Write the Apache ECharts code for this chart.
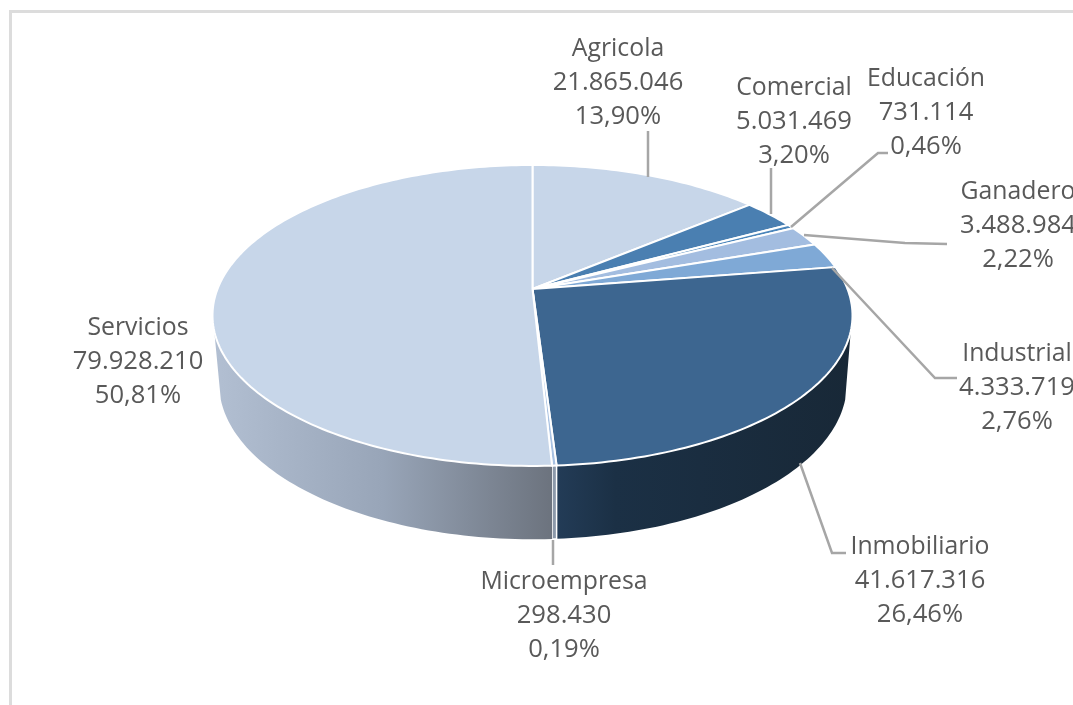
<!DOCTYPE html>
<html><head><meta charset="utf-8">
<style>html,body{margin:0;padding:0;background:#fff}#c{width:1073px;height:705px}</style>
<script src="https://cdn.jsdelivr.net/npm/echarts@6/dist/echarts.min.js"></script>
</head><body><div id="c"></div>
<script>
const categories = ['Agricola','Comercial','Educación','Ganadero','Industrial','Inmobiliario','Microempresa','Servicios'];
const values = [21865046,5031469,731114,3488984,4333719,41617316,298430,79928210];
const valueLabels = ['21.865.046','5.031.469','731.114','3.488.984','4.333.719','41.617.316','298.430','79.928.210'];
const percentLabels = ['13,90%','3,20%','0,46%','2,22%','2,76%','26,46%','0,19%','50,81%'];
const topColors = ['#c7d6e9','#4a7fb1','#4a85ba','#a3bde0','#7fa9d6','#3d6690','#a9c2e2','#c7d6e9'];

// label centres and leader lines (layout only)
const labelCentres = [[618,83],[794,122],[926,113],[1018,226],[1017,388],[920,581],[564,616],[138,362]];
const leaders = [
  [[648,131],[648,177]],
  [[771,168],[771,214]],
  [[888,153],[878,153],[791,227]],
  [[947,244],[905,243],[804,235]],
  [[957,378],[935,378],[832,268]],
  [[846,553],[832,553],[800,463]],
  [[553,540],[553,565]],
  []
];
const total = values.reduce((a,b)=>a+b,0);
const starts = []; let acc = 0;
values.forEach(v=>{starts.push(acc/total*Math.PI*2); acc+=v;});
starts.push(Math.PI*2);

const K = 0.176;
const topDisc = {cx:532.5, cy:289, a:315, b:145.8};
const baseDisc = {cx:533, cy:356, a:309, b:151};
function proj(d, t){
  const u=Math.sin(t), v=Math.cos(t), w=1+K*v;
  return [d.cx+d.a*u/w, d.cy-d.b*v/w];
}
function arc(d,t0,t1){
  const n=Math.max(2,Math.ceil((t1-t0)/0.02)), p=[];
  for(let i=0;i<=n;i++) p.push(proj(d,t0+(t1-t0)*i/n));
  return p;
}
const LG = (stops)=>new echarts.graphic.LinearGradient(0,0,1,0,stops);
const DEG = Math.PI/180;
const wallSpec = {
  5:{from:106*DEG, fill:()=>LG([{offset:0,color:'#233c57'},{offset:0.2,color:'#1b3045'},{offset:1,color:'#182837'}])},
  6:{fill:()=>'#8c99aa'},
  7:{to:254*DEG, fill:()=>LG([{offset:0,color:'#b2bfd2'},{offset:0.5,color:'#98a5b8'},{offset:1,color:'#6c737e'}])}
};
const idx = categories.map((_,i)=>i);

const chart = echarts.init(document.getElementById('c'),null,{renderer:'canvas'});
chart.setOption({
  animation:false,
  backgroundColor:'#fff',
  graphic:[
    {type:'line',silent:true,shape:{x1:10.5,y1:11.5,x2:10.5,y2:705},style:{stroke:'#dcdcdc',lineWidth:3}},
    {type:'line',silent:true,shape:{x1:9,y1:11.5,x2:1073,y2:11.5},style:{stroke:'#dcdcdc',lineWidth:3}}
  ],
  series:[
    {type:'custom',coordinateSystem:'none',silent:true,data:idx,z:1,
     renderItem(params){
       const i=params.dataIndex, s=wallSpec[i];
       if(!s) return {type:'group',children:[]};
       const t0=s.from||starts[i], t1=s.to||starts[i+1];
       const pts=arc(topDisc,t0,t1).concat(arc(baseDisc,t0,t1).reverse());
       return {type:'polygon',shape:{points:pts},
         style:{fill:s.fill(),stroke:i===6?'#ffffff':null,lineWidth:i===6?1.5:0}};
     }},
    {type:'custom',coordinateSystem:'none',silent:true,data:idx,z:2,
     renderItem(params){
       const i=params.dataIndex;
       const pts=[[topDisc.cx,topDisc.cy]].concat(arc(topDisc,starts[i],starts[i+1]));
       return {type:'polygon',shape:{points:pts},
         style:{fill:topColors[i],stroke:'#ffffff',lineWidth:2,lineJoin:'round'}};
     }},
    {type:'custom',coordinateSystem:'none',silent:true,data:idx,z:3,
     renderItem(params){
       const i=params.dataIndex, c=[];
       if(leaders[i].length) c.push({type:'polyline',shape:{points:leaders[i]},
         style:{fill:null,stroke:'#a6a6a6',lineWidth:2.5}});
       c.push({type:'text',style:{
         text:'{n|'+categories[i]+'}\n{v|'+valueLabels[i]+'}\n{v|'+percentLabels[i]+'}',
         x:labelCentres[i][0],y:labelCentres[i][1],align:'center',verticalAlign:'middle',
         fill:'#595959',
         rich:{
           n:{fontFamily:'"Open Sans", sans-serif',fontSize:24.8,lineHeight:34,fill:'#595959',align:'center'},
           v:{fontFamily:'"Open Sans", sans-serif',fontSize:25.6,lineHeight:34,fill:'#595959',align:'center'}
         }}});
       return {type:'group',children:c};
     }}
  ]
});
</script></body></html>
